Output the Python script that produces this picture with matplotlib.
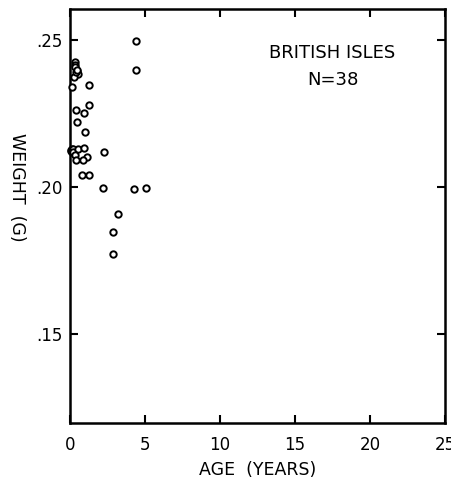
import matplotlib
matplotlib.use("Agg")
import matplotlib.pyplot as plt

# age (years) and weight (g)
age = [0.35, 0.33, 0.37, 0.50, 0.55, 0.30, 0.42, 0.45,
       1.27, 0.13, 1.24, 0.42, 0.91, 0.47, 0.98,
       0.10, 0.15, 0.05, 0.12, 0.20, 0.18,
       0.53, 0.91, 2.25, 0.35, 1.13, 0.40, 0.85,
       0.80, 1.25, 2.18, 4.29, 5.09, 3.18, 2.84, 2.87,
       4.42, 4.40]
weight = [0.2427, 0.2417, 0.2407, 0.2394, 0.2386, 0.2374, 0.2390, 0.2400,
          0.2349, 0.2339, 0.2280, 0.2261, 0.2251, 0.2222, 0.2188,
          0.2126, 0.2130, 0.2124, 0.2120, 0.2128, 0.2118,
          0.2128, 0.2133, 0.2119, 0.2109, 0.2103, 0.2092, 0.2092,
          0.2041, 0.2041, 0.1996, 0.1992, 0.1998, 0.1908, 0.1847, 0.1772,
          0.2497, 0.2400]

xticks = [0, 5, 10, 15, 20, 25]
yticks = [0.15, 0.20, 0.25]
ytick_labels = [".15", ".20", ".25"]

plt.rcParams["font.family"] = ["DejaVu Sans"]

fig = plt.figure(figsize=(4.51, 4.87), dpi=100)
ax = fig.add_axes([0.155, 0.131, 0.832, 0.850])

ax.plot(age, weight, linestyle="none", marker="o", markersize=4.6,
        markerfacecolor="white", markeredgecolor="black",
        markeredgewidth=1.4, clip_on=False, zorder=3)

ax.set_xlim(0, 25)
ax.set_ylim(0.1197, 0.2605)
ax.set_xticks(xticks)
ax.set_xticklabels([str(t) for t in xticks])
ax.set_yticks(yticks)
ax.set_yticklabels(ytick_labels)

ax.tick_params(direction="in", length=6, width=1.5, top=True, right=True,
               labelsize=12)
ax.tick_params(axis="x", pad=9)
ax.tick_params(axis="y", pad=5)
for s in ax.spines.values():
    s.set_linewidth(1.8)

ax.set_xlabel("AGE  (YEARS)", fontsize=12.5, labelpad=5)
ax.set_ylabel("WEIGHT  (G)", fontsize=12.5, rotation=270)
ax.yaxis.set_label_coords(-0.165, 0.57)

ax.text(0.70, 0.895, "BRITISH ISLES", transform=ax.transAxes,
        ha="center", va="center", fontsize=13)
ax.text(0.70, 0.828, "N=38", transform=ax.transAxes,
        ha="center", va="center", fontsize=13)

fig.savefig("out.png", dpi=100)
